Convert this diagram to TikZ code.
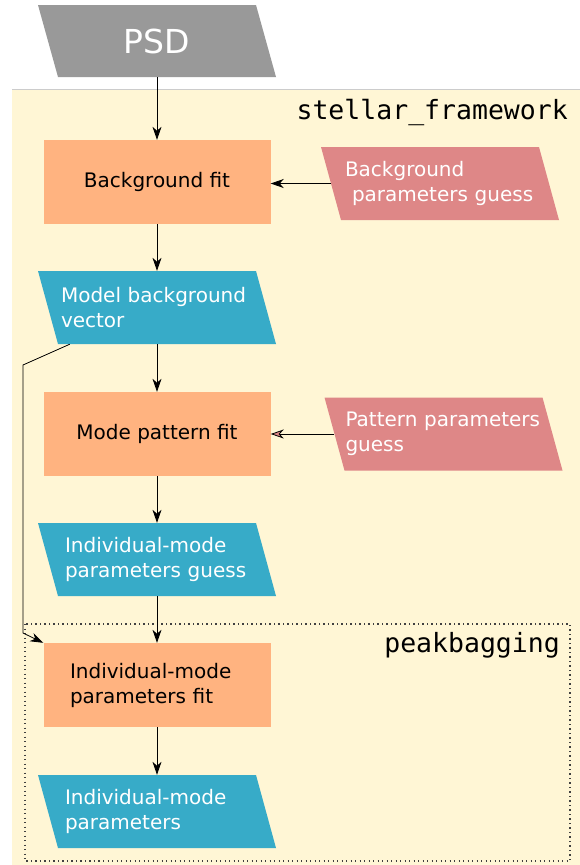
\documentclass[tikz,border=0pt]{standalone}
\usepackage{fontspec}
\setmainfont{DejaVu Sans}
\setmonofont{DejaVu Sans Mono}
\usepackage{tikz}
\usetikzlibrary{arrows.meta,positioning,calc}
\usepackage{xcolor}
\definecolor{psdgrey}{RGB}{153,153,153}
\definecolor{frameyellow}{RGB}{255,246,213}
\definecolor{fitorange}{RGB}{255,179,128}
\definecolor{guesspink}{RGB}{222,135,135}
\definecolor{vectorcyan}{RGB}{55,171,200}
\newcommand{\boxfont}{\fontsize{20}{25}\selectfont}
\tikzset{
  fitbox/.style={rectangle,fill=fitorange,minimum width=227pt,minimum height=84pt,
                 inner sep=0pt,font=\boxfont,align=center},
  slanted/.style={rectangle,minimum width=238pt,minimum height=73pt,inner sep=0pt,
                  text width=198pt,align=left,text=white,font=\boxfont,
                  path picture={\fill[#1] (path picture bounding box.north west)
                    -- ([xshift=-20pt]path picture bounding box.north east)
                    -- (path picture bounding box.south east)
                    -- ([xshift=20pt]path picture bounding box.south west) -- cycle;}},
  vector/.style={slanted=vectorcyan},
  guess/.style={slanted=guesspink},
  flow/.style={-{Stealth[length=13pt,width=9pt,inset=4pt]},draw=black,line width=.8pt},
  pkglabel/.style={anchor=east,inner sep=0pt,font=\ttfamily\fontsize{26.5}{30}\selectfont},
  pkgframe/.style={draw=black!75,line width=1.2pt,dash pattern=on 1.2pt off 3.3pt},
}

\begin{document}
\begin{tikzpicture}[x=1pt,y=-1pt]
  \useasboundingbox (0,0) rectangle (580,865);
  % the stellar_framework area
  \fill[frameyellow] (12,89) rectangle (580,865);
  \draw[black!20,line width=.6pt] (12,89) -- (580,89);
  \node[pkglabel] (sflabel) at (568,112) {stellar\_framework};
  % the peakbagging area
  \draw[pkgframe] (25,624) rectangle (570,861);
  \node[pkglabel] (pblabel) at (560,645) {peakbagging};
  % input
  \node[slanted=psdgrey,minimum height=72pt,align=center,
        font=\fontsize{33}{36}\selectfont] (psd) at (157,41) {PSD};
  % the chain of fits
  \node[fitbox]  (bgfit)     at (157,182)   {Background fit};
  \node[guess,text width=190pt] (bgguess) at (440,183.5)
    {Background\\\hspace*{7pt}parameters guess};
  \node[vector,text width=192pt] (bgvector) at (157,307.5) {Model background\\vector};
  \node[fitbox]  (patfit)    at (157,434)   {Mode pattern fit};
  \node[guess,text width=196pt] (patguess) at (443.5,434) {Pattern parameters\\guess};
  \node[vector,text width=184pt] (modeguess) at (157,559.5)
    {Individual-mode\\parameters guess};
  \node[fitbox,text width=174pt,align=left] (modefit) at (157,685)
    {Individual-mode\\parameters fit};
  \node[vector,text width=184pt] (modes) at (157,811.5) {Individual-mode\\parameters};
  % connectors
  \draw[flow] (psd.south) -- (bgfit.north);
  \draw[flow] ([xshift=10pt]bgguess.west) -- (bgguess.west -| bgfit.east);
  \draw[flow] (bgfit.south) -- (bgvector.north);
  \draw[flow] (bgvector.south) -- (patfit.north);
  \draw[-{Stealth[length=13pt,width=9pt,inset=4pt,fill=guesspink]},line width=.8pt]
    ([xshift=10pt]patguess.west) -- (patguess.west -| patfit.east);
  \draw[flow] (patfit.south) -- (modeguess.north);
  \draw[flow] (modeguess.south) -- (modefit.north);
  \draw[flow] (modefit.south) -- (modes.north);
  % background vector passed on to peakbagging
  \coordinate (vecout) at ([xshift=32pt]bgvector.south west);
  \coordinate (knee1) at (23,365);
  \coordinate (knee2) at (23,633);
  \draw[flow] (vecout) -- (knee1) -- (knee2) -- (modefit.north west);
\end{tikzpicture}
\end{document}
